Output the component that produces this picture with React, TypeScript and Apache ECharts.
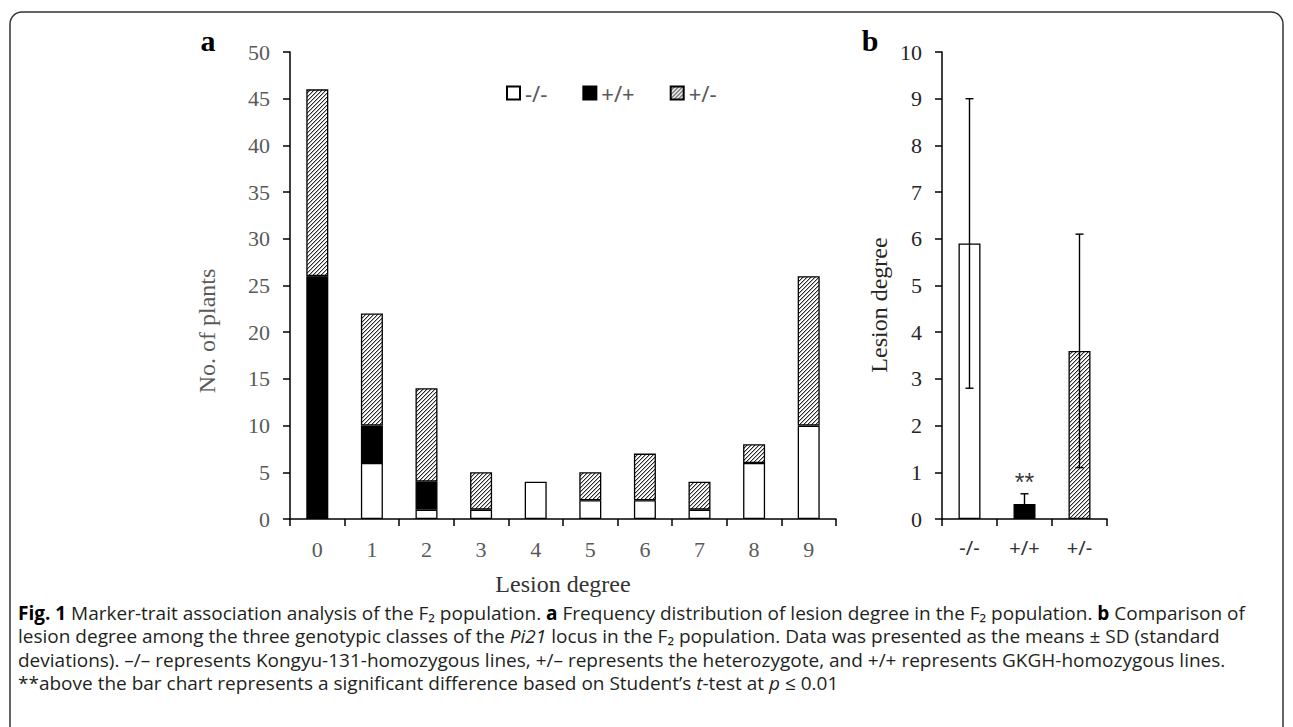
import React, { useEffect, useRef } from 'react';
import * as echarts from 'echarts';

// ---------- data ----------
const lesionCategories = ['0', '1', '2', '3', '4', '5', '6', '7', '8', '9'];
const homozygousNeg = [0, 6, 1, 1, 4, 2, 2, 1, 6, 10]; // -/-
const homozygousPos = [26, 4, 3, 0, 0, 0, 0, 0, 0, 0]; // +/+
const heterozygous = [20, 12, 10, 4, 0, 3, 5, 3, 2, 16]; // +/-
const genotypeNames = ['-/-', '+/+', '+/-'];

const genotypeCategories = ['-/-', '+/+', '+/-'];
const meanLesion = [5.9, 0.32, 3.6];
const sdLesion = [3.1, 0.22, 2.5];
const significanceMark = { category: '+/+', value: 1.0, text: '**' };

const captionLines = [
  '{b|Fig. 1} Marker-trait association analysis of the F\u2082 population. {b|a} Frequency distribution of lesion degree in the F\u2082 population. {b|b} Comparison of',
  'lesion degree among the three genotypic classes of the {i|Pi21} locus in the F\u2082 population. Data was presented as the means ± SD (standard',
  'deviations). \u2013/\u2013 represents Kongyu-131-homozygous lines, +/\u2013 represents the heterozygote, and +/+ represents GKGH-homozygous lines.',
  '**above the bar chart represents a significant difference based on Student\u2019s {i|t}-test at {i|p} \u2264 0.01',
];

const SERIF = '"Liberation Serif", "Times New Roman", serif';
const SANS = '"Noto Sans", "Open Sans", sans-serif';
const CAP = '"Open Sans", "Noto Sans", sans-serif';

function makeHatch() {
  const c = document.createElement('canvas');
  c.width = 4;
  c.height = 4;
  const ctx = c.getContext('2d')!;
  ctx.fillStyle = '#ffffff';
  ctx.fillRect(0, 0, 4, 4);
  for (let i = 0; i < 4; i++) {
    ctx.fillStyle = '#2a2a2a';
    ctx.fillRect(i, 3 - i, 1, 1);
    ctx.fillStyle = '#b0b0b0';
    ctx.fillRect(i, (4 - i) % 4, 1, 1);
  }
  return c;
}

export default function App() {
  const ref = useRef<HTMLDivElement>(null);

  useEffect(() => {
    document.body.style.margin = '0';
    const chart = echarts.init(ref.current!, null, { renderer: 'svg' });
    const hatchCanvas = makeHatch();
    const hatch: any = { image: hatchCanvas, repeat: 'repeat', imageWidth: 4, imageHeight: 4 };

    const fills = ['#ffffff', '#000000', hatch];
    const stacks = [homozygousNeg, homozygousPos, heterozygous];

    const axisLineStyle = { color: '#000', width: 1.5 };
    const tickStyle = { show: true, length: 7, lineStyle: { color: '#000', width: 1.5 } };

    const stackedSeries = genotypeNames.map((name, k) => ({
      name,
      type: 'bar',
      stack: 'plants',
      xAxisIndex: 0,
      yAxisIndex: 0,
      barWidth: 22,
      data: stacks[k].map((v) => (v === 0 ? '-' : v)),
      itemStyle: { color: fills[k], borderColor: '#000', borderWidth: 1.3 },
      emphasis: { disabled: true },
    }));

    const option: any = {
      animation: false,
      backgroundColor: '#fff',
      legend: {
        data: genotypeNames,
        left: 506,
        top: 82,
        padding: 0,
        itemWidth: 13,
        itemHeight: 13,
        itemGap: 35,
        icon: 'rect',
        selectedMode: false,
        textStyle: { fontFamily: SANS, fontSize: 22, color: '#595959' },
      },
      grid: [
        { left: 290, top: 52, width: 546, height: 467 },
        { left: 942, top: 52, width: 165, height: 467 },
      ],
      xAxis: [
        {
          type: 'category',
          gridIndex: 0,
          data: lesionCategories,
          axisLine: { lineStyle: axisLineStyle },
          axisTick: tickStyle,
          axisLabel: { fontFamily: SERIF, fontSize: 22, color: '#595959', margin: 19 },
        },
        {
          type: 'category',
          gridIndex: 1,
          data: genotypeCategories,
          axisLine: { lineStyle: axisLineStyle },
          axisTick: tickStyle,
          axisLabel: { fontFamily: SANS, fontSize: 20, color: '#333', margin: 18 },
        },
      ],
      yAxis: [
        {
          type: 'value',
          gridIndex: 0,
          min: 0,
          max: 50,
          interval: 5,
          splitLine: { show: false },
          axisLine: { show: true, lineStyle: axisLineStyle },
          axisTick: tickStyle,
          axisLabel: { fontFamily: SERIF, fontSize: 22, color: '#595959', margin: 20 },
        },
        {
          type: 'value',
          gridIndex: 1,
          min: 0,
          max: 10,
          interval: 1,
          splitLine: { show: false },
          axisLine: { show: true, lineStyle: axisLineStyle },
          axisTick: tickStyle,
          axisLabel: { fontFamily: SERIF, fontSize: 22, color: '#262626', margin: 20 },
        },
      ],
      series: [
        ...stackedSeries,
        {
          name: 'mean',
          type: 'bar',
          xAxisIndex: 1,
          yAxisIndex: 1,
          barWidth: 22,
          data: meanLesion.map((v, i) => ({
            value: v,
            itemStyle: { color: fills[i], borderColor: '#000', borderWidth: 1.3 },
          })),
          emphasis: { disabled: true },
        },
        {
          name: 'sd',
          type: 'custom',
          xAxisIndex: 1,
          yAxisIndex: 1,
          z: 5,
          encode: { x: 0, y: 1 },
          data: meanLesion.map((m, i) => [i, m, sdLesion[i]]),
          renderItem: (params: any, api: any) => {
            const x = api.value(0);
            const m = api.value(1);
            const sd = api.value(2);
            const top = api.coord([x, m + sd]);
            const bot = api.coord([x, m - sd]);
            const cap = 4;
            const st = { stroke: '#000', lineWidth: 1.4 };
            return {
              type: 'group',
              children: [
                { type: 'line', shape: { x1: top[0], y1: top[1], x2: bot[0], y2: bot[1] }, style: st },
                { type: 'line', shape: { x1: top[0] - cap, y1: top[1], x2: top[0] + cap, y2: top[1] }, style: st },
                { type: 'line', shape: { x1: bot[0] - cap, y1: bot[1], x2: bot[0] + cap, y2: bot[1] }, style: st },
              ],
            };
          },
        },
        {
          name: 'sig',
          type: 'scatter',
          xAxisIndex: 1,
          yAxisIndex: 1,
          symbolSize: 1,
          itemStyle: { color: 'rgba(0,0,0,0)' },
          data: [[significanceMark.category, significanceMark.value]],
          label: {
            show: true,
            position: 'inside',
            offset: [0, 10],
            formatter: significanceMark.text,
            fontFamily: '"Liberation Sans", Arial, sans-serif',
            fontSize: 25,
            color: '#000',
          },
        },
      ],
      graphic: [
        {
          type: 'rect',
          shape: { x: 10, y: 12, width: 1273, height: 760, r: 12 },
          style: { fill: 'none', stroke: '#333', lineWidth: 1.5 },
          silent: true,
        },
        {
          type: 'text',
          x: 208,
          y: 40,
          style: { text: 'a', font: `bold 30px ${SERIF}`, fill: '#000', align: 'center', verticalAlign: 'middle' },
        },
        {
          type: 'text',
          x: 870,
          y: 40,
          style: { text: 'b', font: `bold 30px ${SERIF}`, fill: '#000', align: 'center', verticalAlign: 'middle' },
        },
        {
          type: 'text',
          x: 207,
          y: 331,
          rotation: Math.PI / 2,
          style: { text: 'No. of plants', font: `24px ${SERIF}`, fill: '#595959', align: 'center', verticalAlign: 'middle' },
        },
        {
          type: 'text',
          x: 563,
          y: 584,
          style: { text: 'Lesion degree', font: `24px ${SERIF}`, fill: '#333', align: 'center', verticalAlign: 'middle' },
        },
        {
          type: 'text',
          x: 879,
          y: 305,
          rotation: Math.PI / 2,
          style: { text: 'Lesion degree', font: `24px ${SERIF}`, fill: '#262626', align: 'center', verticalAlign: 'middle' },
        },
        {
          type: 'text',
          x: 18,
          y: 601,
          style: {
            text: captionLines.join('\n'),
            fontFamily: CAP,
            fontSize: 19,
            lineHeight: 23.5,
            fill: '#231f20',
            rich: {
              b: { fontWeight: 'bold', fontFamily: CAP, fontSize: 19, lineHeight: 23.5, fill: '#000' },
              i: { fontStyle: 'italic', fontFamily: CAP, fontSize: 19, lineHeight: 23.5 },
            },
          },
        },
      ],
    };

    chart.setOption(option);
    return () => chart.dispose();
  }, []);

  return <div ref={ref} style={{ width: 1293, height: 727, background: '#fff' }} />;
}
